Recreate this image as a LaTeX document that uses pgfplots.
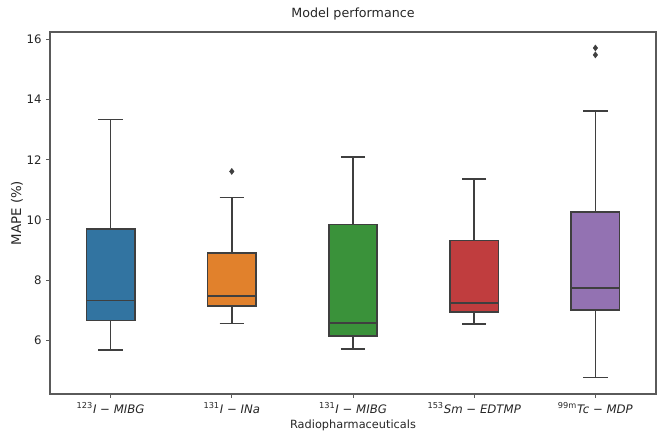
\documentclass[border=0pt]{standalone}
\usepackage{fontspec}
\setmainfont{DejaVu Sans}
\usepackage{pgfplots}
\pgfplotsset{compat=1.18}
\usepgfplotslibrary{statistics}

\definecolor{edge}{RGB}{63,63,63}
\definecolor{axisgray}{RGB}{90,90,90}
\definecolor{sbblue}{RGB}{50,116,161}
\definecolor{sborange}{RGB}{225,129,44}
\definecolor{sbgreen}{RGB}{58,146,58}
\definecolor{sbred}{RGB}{192,61,62}
\definecolor{sbpurple}{RGB}{147,114,178}

\newcommand{\drug}[2]{\textsuperscript{#1}\textit{#2}}

\pgfplotsset{
  sbbox/.style={
    solid, draw=edge, line width=1.25pt,
    mark=diamond*, mark size=2.3pt,
    mark options={solid, draw=edge, fill=edge, line width=0.3pt},
  },
}

\begin{document}
\begin{tikzpicture}
\begin{axis}[
  scale only axis,
  width=454.5pt, height=271.5pt,
  xmin=-0.5, xmax=4.5,
  ymin=4.22, ymax=16.24,
  xtick={0,1,2,3,4},
  xticklabels={\drug{123}{I − MIBG}, \drug{131}{I − INa}, \drug{131}{I − MIBG}, \drug{153}{Sm − EDTMP}, \drug{99m}{Tc − MDP}},
  ytick={6,8,10,12,14,16},
  tick pos=left,
  tick align=outside,
  major tick length=2.8pt,
  tick style={axisgray, line width=0.7pt},
  axis line style={axisgray, line width=0.8pt},
  /pgf/number format/assume math mode=true,
  ticklabel style={font=\fontsize{8.8}{10}\selectfont, text=black!85},
  title={Model performance},
  title style={at={(axis description cs:0.5,1)}, anchor=base, yshift=5pt, font=\fontsize{9.5}{11}\selectfont, text=black!85},
  xlabel={Radiopharmaceuticals},
  ylabel={MAPE (\%)},
  every axis x label/.style={at={(axis description cs:0.5,-0.0856)}, anchor=center, font=\fontsize{8.5}{10}\selectfont, text=black!85},
  every axis y label/.style={at={(axis description cs:-0.0545,0.5)}, rotate=90, anchor=center, font=\fontsize{10}{12}\selectfont, text=black!85},
  boxplot/draw direction=y,
  boxplot/box extend=0.4,
  boxplot/whisker extend=0.2,
  boxplot/every box/.style={draw=edge, line width=1.25pt},
  boxplot/every whisker/.style={draw=edge, line width=1.25pt},
  boxplot/every median/.style={draw=edge, line width=1.25pt},
]
\addplot[sbbox, fill=sbblue, boxplot prepared={draw position=0,
  lower whisker=5.67, lower quartile=6.66, median=7.33, upper quartile=9.69, upper whisker=13.33}]
  coordinates {};
\addplot[sbbox, fill=sborange, boxplot prepared={draw position=1,
  lower whisker=6.56, lower quartile=7.14, median=7.48, upper quartile=8.90, upper whisker=10.75}]
  table[row sep=\\, y index=0] {11.61\\};
\addplot[sbbox, fill=sbgreen, boxplot prepared={draw position=2,
  lower whisker=5.72, lower quartile=6.14, median=6.58, upper quartile=9.85, upper whisker=12.08}]
  coordinates {};
\addplot[sbbox, fill=sbred, boxplot prepared={draw position=3,
  lower whisker=6.55, lower quartile=6.94, median=7.25, upper quartile=9.32, upper whisker=11.35}]
  coordinates {};
\addplot[sbbox, fill=sbpurple, boxplot prepared={draw position=4,
  lower whisker=4.77, lower quartile=7.02, median=7.73, upper quartile=10.27, upper whisker=13.62}]
  table[row sep=\\, y index=0] {15.48\\ 15.71\\};
\end{axis}
\path[use as bounding box] (-37.5pt,-29.25pt) rectangle (456pt,295.5pt);
\end{tikzpicture}
\end{document}
